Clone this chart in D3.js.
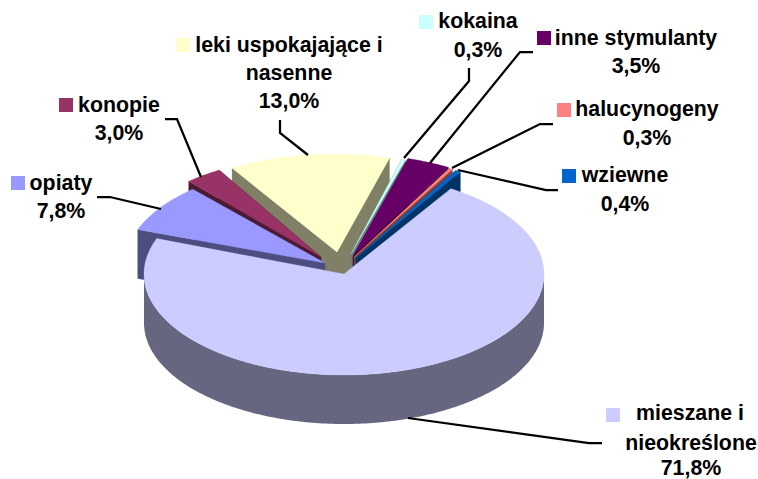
<!DOCTYPE html>
<html>
<head>
<meta charset="utf-8">
<script src="https://cdnjs.cloudflare.com/ajax/libs/d3/7.8.5/d3.min.js"></script>
<style>
html,body{margin:0;padding:0;background:#fff;}
svg{display:block;}
text{font-family:"Liberation Sans",Arial,sans-serif;font-weight:bold;font-size:21.33px;fill:#000;}
</style>
</head>
<body>
<script>
// data
const categories = ["mieszane i nieokreślone","opiaty","konopie","leki uspokajające i nasenne","kokaina","inne stymulanty","halucynogeny","wziewne"];
const values = [71.8,7.8,3.0,13.0,0.3,3.5,0.3,0.4];
const topColors = ["#CCCCFF","#9999FF","#993366","#FFFFCC","#CCFFFF","#660066","#FF8080","#0066CC"];
const sideColors = ["#666680","#4D4D80","#4D1A33","#808066","#668080","#330033","#804040","#003366"];
const labelLines = [["mieszane i","nieokreślone"],["opiaty"],["konopie"],["leki uspokajające i","nasenne"],["kokaina"],["inne stymulanty"],["halucynogeny"],["wziewne"]];

// layout
const W=758,H=479,rx=200,ry=101,depth=49,cx=344,cy=274,startDeg=32.3;
// shift of each slice's rim from the pie centre
const explode=[[0,0],[-19,-9],[-23,-17],[-10,-19],[2.5,-18],[5,-19],[6,-18],[9.5,-17]];
// shift of each slice's inner tip from the pie centre
const tipShift=[[0,0],[-19,-11],[-23,-17],[-7,-22],[7,-20],[9,-18],[10,-17],[12,-16]];
const drawOrder=[3,2,1,4,5,6,7,0];
// label layout: key x, first baseline, centre x of each line
const labelPos=[
 {key:[606,408],lines:[[690,420],[691,450]],pct:[691,475]},
 {key:[11,176],lines:[[61,190]],pct:[61,218]},
 {key:[59,98],lines:[[119,112]],pct:[119,140]},
 {key:[176,38],lines:[[289,52],[289,80]],pct:[289,108]},
 {key:[419,15],lines:[[478,28]],pct:[478,57]},
 {key:[537,31],lines:[[636,45]],pct:[636,73]},
 {key:[557,103],lines:[[647,116]],pct:[647,145]},
 {key:[562,169],lines:[[625,182]],pct:[625,211]}
];
const leaders=[
 [[602,443],[589,443],[408,418]],
 [[97,197],[110,197],[161,209]],
 [[165,119],[177,119],[201,177]],
 [[280,120],[280,133],[308,155]],
 [[469,68],[469,81],[404,158]],
 [[533,52],[520,52],[430,163]],
 [[553,124],[540,124],[452,168]],
 [[558,190],[546,190],[458,170]]
];

const svg=d3.select("body").append("svg").attr("width",W).attr("height",H);
const start=startDeg*Math.PI/180;
const pie=d3.pie().sort(null).value(d=>d).startAngle(start).endAngle(start+2*Math.PI);
const arcs=pie(values);
const line=d3.line();
const proj=(t,o,dz=0)=>[cx+o[0]+rx*Math.sin(t),cy+o[1]-ry*Math.cos(t)+dz];
const sample=(a,b,o,dz)=>{
  const n=Math.max(2,Math.ceil((b-a)*60));
  return d3.range(n+1).map(i=>proj(a+(b-a)*i/n,o,dz));
};

const pieG=svg.append("g");
drawOrder.forEach(i=>{
  const a=arcs[i],o=explode[i],fill=topColors[i],side=sideColors[i];
  const apex=[cx+tipShift[i][0],cy+tipShift[i][1]],apexB=[apex[0],apex[1]+depth];
  const g=pieG.append("g");
  // cut faces
  [a.startAngle,a.endAngle].forEach(t=>{
    g.append("path").attr("d",line([apex,proj(t,o),proj(t,o,depth),apexB])+"Z")
      .attr("fill",side).attr("stroke",side).attr("stroke-width",0.3);
  });
  // outer wall, front half only
  const lo=Math.max(a.startAngle,Math.PI/2),hi=Math.min(a.endAngle,3*Math.PI/2);
  if(hi>lo){
    const upper=sample(lo,hi,o,0),lower=sample(lo,hi,o,depth).reverse();
    g.append("path").attr("d",line(upper.concat(lower))+"Z").attr("fill",side);
  }
  // top surface
  const top=sample(a.startAngle,a.endAngle,o,0);
  g.append("path").attr("d",line([apex].concat(top))+"Z").attr("fill",fill).attr("stroke",fill).attr("stroke-width",0.3);
});

// leader lines
svg.append("g").selectAll("path").data(leaders).join("path")
  .attr("d",d=>line(d)).attr("fill","none").attr("stroke","#000").attr("stroke-width",2.25);

// labels
const pct=v=>d3.format(".1f")(v).replace(".",",")+"%";
const lab=svg.append("g");
categories.forEach((c,i)=>{
  const p=labelPos[i];
  lab.append("rect").attr("x",p.key[0]).attr("y",p.key[1]).attr("width",14).attr("height",14).attr("fill",topColors[i]);
  labelLines[i].forEach((s,j)=>{
    lab.append("text").attr("x",p.lines[j][0]).attr("y",p.lines[j][1]).attr("text-anchor","middle").text(s);
  });
  lab.append("text").attr("x",p.pct[0]).attr("y",p.pct[1]).attr("text-anchor","middle").text(pct(values[i]));
});
</script>
</body>
</html>
